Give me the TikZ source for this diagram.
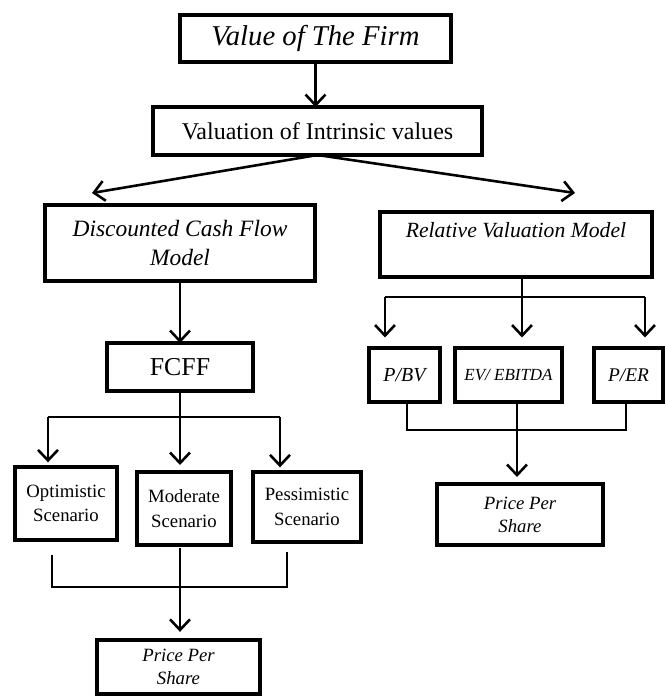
\documentclass[tikz,border=0pt]{standalone}
\usepackage{fontspec}
\setmainfont{Liberation Serif}
\usetikzlibrary{arrows.meta}
\begin{document}
\begin{tikzpicture}[x=0.03cm,y=-0.03cm,
	box/.style={draw,line width=3.4pt,inner sep=1pt,outer sep=0pt,align=center},
	ln/.style={line width=2.2pt},
	arr/.style={ln,-{Straight Barb[length=9pt,width=17pt]}}]
	\useasboundingbox (0,0) rectangle (665,697);

	\node[box,minimum width=8.13cm,minimum height=1.41cm,font=\fontsize{24.5}{29}\selectfont\itshape] (firm) at (315.5,38.5) {Value of The Firm};
	\node[box,minimum width=9.87cm,minimum height=1.44cm,font=\fontsize{20.5}{25}\selectfont] (intr) at (317.5,131) {Valuation of Intrinsic values};
	\node[box,minimum width=8.1cm,minimum height=2.28cm,font=\fontsize{20}{25.5}\selectfont\itshape] (dcf) at (180,243) {Discounted Cash Flow\\Model};
	\node[box,minimum width=8.16cm,minimum height=1.95cm,font=\fontsize{18.5}{24}\selectfont\itshape] (rvm) at (516,244.5) {Relative Valuation Model\\\mbox{}};
	\node[box,minimum width=4.38cm,minimum height=1.44cm,font=\fontsize{22}{26}\selectfont] (fcff) at (180,367) {FCFF};

	\node[box,minimum width=3.06cm,minimum height=2.19cm,font=\fontsize{16}{21}\selectfont] (opt) at (66,503.5) {Optimistic\\Scenario};
	\node[box,minimum width=2.82cm,minimum height=2.19cm,font=\fontsize{16}{21}\selectfont] (mod) at (184,508.5) {Moderate\\Scenario};
	\node[box,minimum width=3.24cm,minimum height=2.1cm,font=\fontsize{16}{21}\selectfont] (pes) at (307,507) {Pessimistic\\Scenario};
	\node[box,minimum width=4.89cm,minimum height=1.62cm,font=\fontsize{16}{19.5}\selectfont\itshape] (price1) at (178.5,667) {Price Per\\Share};

	\node[box,minimum width=2.13cm,minimum height=1.62cm,font=\fontsize{17}{20}\selectfont\itshape] (pbv) at (404.5,375) {P/BV};
	\node[box,minimum width=3.21cm,minimum height=1.62cm,font=\fontsize{14.5}{18}\selectfont\itshape] (ev) at (508.5,375) {EV/ EBITDA};
	\node[box,minimum width=2.07cm,minimum height=1.62cm,font=\fontsize{16.5}{20}\selectfont\itshape] (per) at (628.5,375) {P/ER};
	\node[box,minimum width=4.98cm,minimum height=1.83cm,font=\fontsize{16}{19.5}\selectfont\itshape] (price2) at (520,514.5) {Price Per\\Share};

	\coordinate (dcfin) at (92,193);
	\coordinate (rvmin) at (575,193);
	\draw[arr] (firm.south) -- (firm.south |- intr.north);
	\draw[arr] (intr.south) -- (dcfin);
	\draw[arr] (intr.south) -- (rvmin);
	\draw[arr] (dcf.south) -- (dcf.south |- fcff.north);

	\coordinate (fl) at (48,417);
	\coordinate (fm) at (180,417);
	\coordinate (fr) at (280,417);
	\draw[ln] (fcff.south) -- (fm);
	\draw[ln] (fl) -- (fr);
	\draw[arr,shorten >=4pt] (fl) -- (fl |- opt.north);
	\draw[arr,shorten >=6pt] (fm) -- (fm |- mod.north);
	\draw[arr,shorten >=4pt] (fr) -- (fr |- pes.north);

	\coordinate (ja) at (52,555);
	\coordinate (jb) at (287,552);
	\coordinate (jc) at (180,548);
	\coordinate (jl) at (52,587);
	\coordinate (jm) at (180,587);
	\coordinate (jr) at (287,587);
	\draw[ln] (ja) -- (jl) -- (jr) -- (jb);
	\draw[ln] (jc) -- (jm);
	\draw[arr,shorten >=7pt] (jm) -- (jm |- price1.north);

	\coordinate (rl) at (385,297);
	\coordinate (rm) at (522,297);
	\coordinate (rr) at (645,297);
	\draw[ln] (rm |- rvm.south) -- (rm);
	\draw[ln] (rl) -- (rr);
	\draw[arr,shorten >=9pt] (rl) -- (rl |- pbv.north);
	\draw[arr,shorten >=9pt] (rm) -- (rm |- ev.north);
	\draw[arr,shorten >=9pt] (rr) -- (rr |- per.north);

	\coordinate (ql) at (407,430);
	\coordinate (qm) at (517,430);
	\coordinate (qr) at (626,430);
	\draw[ln] (ql |- pbv.south) -- (ql) -- (qr) -- (qr |- per.south);
	\draw[ln] (qm |- ev.south) -- (qm);
	\draw[arr,shorten >=6pt] (qm) -- (qm |- price2.north);
\end{tikzpicture}
\end{document}
